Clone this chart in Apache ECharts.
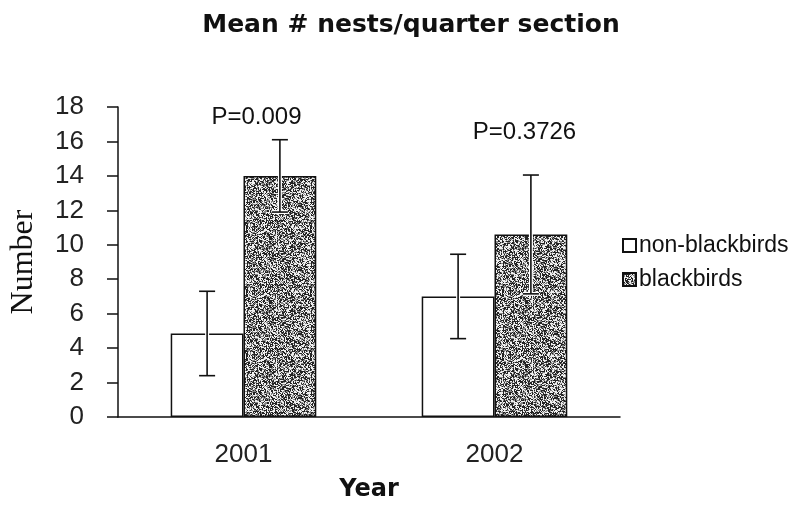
<!DOCTYPE html>
<html>
<head>
<meta charset="utf-8">
<script src="https://cdn.jsdelivr.net/npm/echarts@6/dist/echarts.min.js"></script>
<style>
  html, body { margin: 0; padding: 0; background: #fff; }
  #main { width: 797px; height: 508px; }
</style>
</head>
<body>
<div id="main"></div>
<script>
  // data
  var years = ['2001', '2002'];
  var nonBlackbirds = [4.85, 7.0];
  var nonBlackbirdsErr = [2.45, 2.45];
  var blackbirds = [14.0, 10.6];
  var blackbirdsErr = [2.1, 3.45];
  var pTexts = ['P=0.009', 'P=0.3726'];
  var pLevels = [17.4, 16.5];

  var gapRatio = 0.42;

  // mottled grey fill for the blackbird bars
  function stipple() {
    var c = document.createElement('canvas');
    c.width = 64; c.height = 64;
    var g = c.getContext('2d');
    var img = g.createImageData(64, 64);
    var s = 987654;
    for (var i = 0; i < 64 * 64; i++) {
      s = (s * 1103515245 + 12345) & 0x7fffffff;
      var r = (s >> 16) & 255;
      var v = r < 100 ? 35 : (r < 160 ? 135 : 240);
      img.data[i * 4] = v;
      img.data[i * 4 + 1] = v;
      img.data[i * 4 + 2] = v;
      img.data[i * 4 + 3] = 255;
    }
    g.putImageData(img, 0, 0);
    return c;
  }

  function errSeries(name, vals, errs, side) {
    return {
      name: name + ' err',
      type: 'custom',
      z: 5,
      data: vals.map(function (v, i) { return [i, v - errs[i], v + errs[i]]; }),
      renderItem: function (params, api) {
        var band = api.size([1, 0])[0];
        var bw = band * (1 - gapRatio) / 2;
        var lo = api.coord([api.value(0), api.value(1)]);
        var hi = api.coord([api.value(0), api.value(2)]);
        var x = lo[0] + side * bw / 2;
        var cap = 8;
        var lines = [
          [x, hi[1], x, lo[1]],
          [x - cap, hi[1], x + cap, hi[1]],
          [x - cap, lo[1], x + cap, lo[1]]
        ];
        var kids = [];
        lines.forEach(function (l) {
          kids.push({ type: 'line', shape: { x1: l[0], y1: l[1], x2: l[2], y2: l[3] },
            style: { stroke: '#fff', lineWidth: 4 } });
        });
        lines.forEach(function (l) {
          kids.push({ type: 'line', shape: { x1: l[0], y1: l[1], x2: l[2], y2: l[3] },
            style: { stroke: '#111', lineWidth: 1.6 } });
        });
        return { type: 'group', children: kids };
      }
    };
  }

  var labelShift = [13, 30];

  var chart = echarts.init(document.getElementById('main'));
  chart.setOption({
    animation: false,
    backgroundColor: '#fff',
    title: {
      text: 'Mean # nests/quarter section',
      left: 406,
      top: 8,
      textAlign: 'center',
      textStyle: { fontFamily: 'DejaVu Sans', fontWeight: 'bold', fontSize: 25, color: '#111' }
    },
    legend: {
      orient: 'vertical',
      left: 617,
      top: 229,
      itemWidth: 13,
      itemHeight: 13,
      itemGap: 11,
      icon: 'rect',
      data: ['non-blackbirds', 'blackbirds'],
      textStyle: { fontFamily: 'Liberation Sans', fontSize: 23, color: '#111', padding: [0, 0, 0, -2] }
    },
    grid: { left: 111, right: 177, top: 107, bottom: 91 },
    xAxis: {
      type: 'category',
      data: years,
      name: 'Year',
      nameLocation: 'middle',
      nameGap: 61,
      nameTextStyle: { fontFamily: 'DejaVu Sans', fontWeight: 'bold', fontSize: 24, color: '#111' },
      axisLine: { lineStyle: { color: '#111', width: 1.5 } },
      axisTick: { length: 7, lineStyle: { color: '#111', width: 1.5 } },
      axisLabel: { margin: 25, fontFamily: 'Liberation Sans', fontSize: 26, color: '#222' }
    },
    yAxis: {
      type: 'value',
      min: 0,
      max: 18,
      interval: 2,
      name: 'Number',
      nameLocation: 'middle',
      nameGap: 78,
      nameTextStyle: { fontFamily: 'Liberation Serif', fontSize: 32, color: '#111' },
      splitLine: { show: false },
      axisLine: { show: true, lineStyle: { color: '#111', width: 1.5 } },
      axisTick: { show: true, length: 11, lineStyle: { color: '#111', width: 1.5 } },
      axisLabel: { margin: 34, fontFamily: 'Liberation Sans', fontSize: 26, color: '#222' }
    },
    series: [
      {
        name: 'non-blackbirds',
        type: 'bar',
        data: nonBlackbirds,
        barGap: '0%',
        barCategoryGap: (gapRatio * 100) + '%',
        itemStyle: { color: '#fff', borderColor: '#111', borderWidth: 1.5 }
      },
      {
        name: 'blackbirds',
        type: 'bar',
        data: blackbirds,
        itemStyle: { color: { image: stipple(), repeat: 'repeat' }, borderColor: '#111', borderWidth: 1.5 }
      },
      errSeries('non-blackbirds', nonBlackbirds, nonBlackbirdsErr, -1),
      errSeries('blackbirds', blackbirds, blackbirdsErr, 1),
      {
        name: 'p',
        type: 'custom',
        z: 6,
        data: pLevels.map(function (v, i) { return [i, v]; }),
        renderItem: function (params, api) {
          var p = api.coord([api.value(0), api.value(1)]);
          return {
            type: 'text',
            x: p[0] + labelShift[params.dataIndex],
            y: p[1],
            style: {
              text: pTexts[params.dataIndex],
              align: 'center',
              verticalAlign: 'middle',
              font: '24px "Liberation Sans"',
              fill: '#111'
            }
          };
        }
      }
    ]
  });
</script>
</body>
</html>
